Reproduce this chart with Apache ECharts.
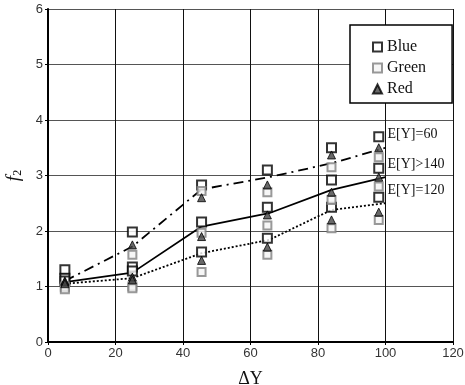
<!DOCTYPE html>
<html>
<head>
<meta charset="utf-8">
<script src="https://cdn.jsdelivr.net/npm/echarts@6/dist/echarts.min.js"></script>
<style>
  html, body { margin: 0; padding: 0; background: #fff; }
  #chart { width: 465px; height: 385px; }
</style>
</head>
<body>
<div id="chart"></div>
<script>
// x positions
var lineX = [5, 25, 45.5, 65.5, 84, 100];
var markX = [5, 25, 45.5, 65, 84, 98];

// mean lines per E[Y] group
var line60 = [1.1, 1.72, 2.75, 2.97, 3.22, 3.5];
var line140 = [1.08, 1.25, 2.08, 2.32, 2.74, 2.97];
var line120 = [1.05, 1.15, 1.6, 1.84, 2.38, 2.5];

// markers, one array per colour and group
var blue60 = [1.3, 1.98, 2.83, 3.1, 3.5, 3.7];
var green60 = [0.98, 1.57, 2.72, 2.7, 3.15, 3.33];
var red60 = [1.1, 1.75, 2.6, 2.83, 3.37, 3.5];
var blue140 = [1.15, 1.35, 2.16, 2.43, 2.92, 3.13];
var green140 = [1.0, 1.0, 1.97, 2.1, 2.56, 2.8];
var red140 = [1.08, 1.17, 1.9, 2.29, 2.7, 2.97];
var blue120 = [1.1, 1.28, 1.62, 1.87, 2.43, 2.61];
var green120 = [0.95, 0.97, 1.26, 1.57, 2.05, 2.2];
var red120 = [1.05, 1.12, 1.47, 1.71, 2.2, 2.34];

var lineNames = ['E[Y]=60', 'E[Y]>140', 'E[Y]=120'];

function pairs(xs, ys) {
  return ys.map(function (v, i) { return [xs[i], v]; });
}

var serif = '"Liberation Serif", "DejaVu Serif", serif';
var sans = '"Liberation Sans", Arial, sans-serif';

function lineSeries(name, ys, type) {
  return {
    name: name,
    type: 'line',
    data: pairs(lineX, ys),
    symbol: 'none',
    silent: true,
    z: 2,
    lineStyle: { color: '#000', width: 1.8, type: type },
    endLabel: {
      show: true,
      formatter: name,
      offset: [-6, -13],
      fontFamily: serif,
      fontSize: 14,
      color: '#111'
    }
  };
}

var blueStyle = { color: '#fff', borderColor: '#000', borderWidth: 2 };
var greenStyle = { color: '#f4f4f4', borderColor: '#808080', borderWidth: 2 };
var redStyle = { color: '#444', borderColor: '#000', borderWidth: 1 };

function scat(name, arrs, symbol, size, style) {
  var d = [];
  arrs.forEach(function (a) { d = d.concat(pairs(markX, a)); });
  return {
    name: name,
    type: 'scatter',
    data: d,
    symbol: symbol,
    symbolSize: size,
    itemStyle: style,
    z: 3
  };
}

var chart = echarts.init(document.getElementById('chart'));
chart.setOption({
  animation: false,
  backgroundColor: '#fff',
  grid: { left: 48, right: 12, top: 9, bottom: 43, containLabel: false, outerBoundsMode: 'none' },
  legend: {
    data: ['Blue', 'Green', 'Red'],
    orient: 'vertical',
    left: 350,
    top: 25,
    padding: [14, 26, 6, 22],
    itemGap: 5,
    itemWidth: 9,
    itemHeight: 9,
    backgroundColor: '#fff',
    borderColor: '#000',
    borderWidth: 1.5,
    borderRadius: 0,
    textStyle: { fontFamily: serif, fontSize: 16, color: '#111' }
  },
  xAxis: {
    type: 'value',
    min: 0, max: 120, interval: 20,
    name: 'ΔY',
    nameLocation: 'middle',
    nameGap: 28,
    nameTextStyle: { fontFamily: serif, fontSize: 18, color: '#111' },
    axisLine: { lineStyle: { color: '#000', width: 2 } },
    axisTick: { show: true, length: 3, lineStyle: { color: '#000' } },
    axisLabel: { fontFamily: sans, fontSize: 13, color: '#333', margin: 5 },
    splitLine: { lineStyle: { color: '#111', width: 1 } }
  },
  yAxis: {
    type: 'value',
    min: 0, max: 6, interval: 1,
    name: '{f|f}{s|2}',
    nameLocation: 'middle',
    nameGap: 24,
    nameRotate: 90,
    nameTextStyle: {
      rich: {
        f: { fontFamily: serif, fontStyle: 'italic', fontSize: 19, color: '#111' },
        s: { fontFamily: serif, fontSize: 12, color: '#111', padding: [8, 0, 0, 0] }
      }
    },
    axisLine: { show: true, lineStyle: { color: '#000', width: 2 } },
    axisTick: { show: true, length: 3, lineStyle: { color: '#000' } },
    axisLabel: { fontFamily: sans, fontSize: 13, color: '#333', margin: 5 },
    splitLine: { lineStyle: { color: '#555', width: 1 } }
  },
  series: [
    lineSeries(lineNames[0], line60, [10, 5, 2, 5]),
    lineSeries(lineNames[1], line140, 'solid'),
    lineSeries(lineNames[2], line120, [2, 2]),
    scat('Blue', [blue60, blue140, blue120], 'rect', 9, blueStyle),
    scat('Green', [green60, green140, green120], 'rect', 8, greenStyle),
    scat('Red', [red60, red140, red120], 'triangle', 8, redStyle)
  ]
});
</script>
</body>
</html>
